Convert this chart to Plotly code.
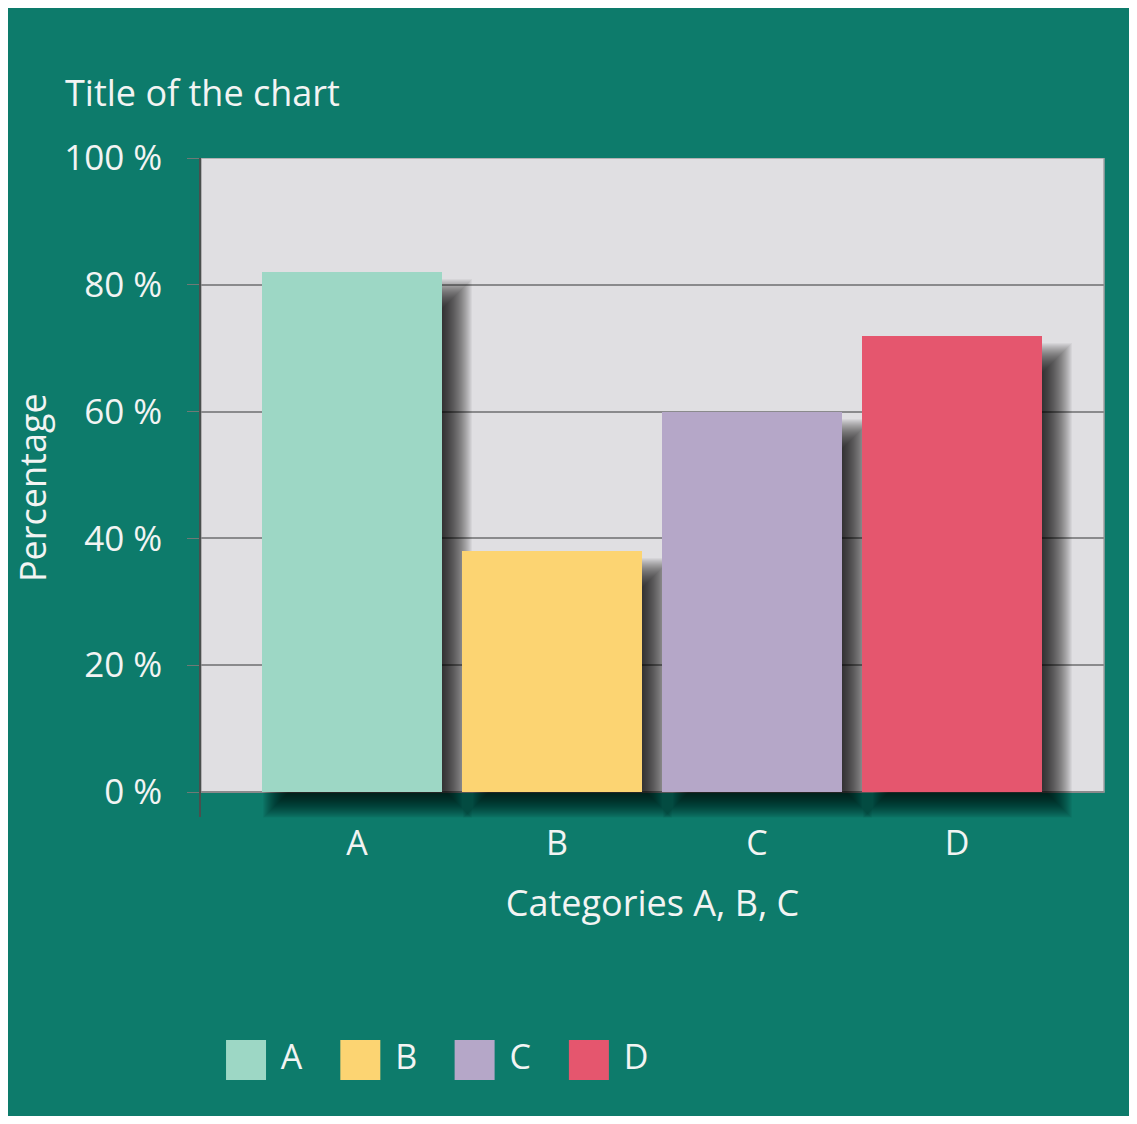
import plotly.graph_objects as go

# data
categories = ["A", "B", "C", "D"]
values = [82, 38, 60, 72]
bar_colors = ["#9dd7c5", "#fcd472", "#b5a7c8", "#e5566e"]
y_ticks = [0, 20, 40, 60, 80, 100]
y_tick_labels = ["0 %", "20 %", "40 %", "60 %", "80 %", "100 %"]

TEAL = "#0d7b6b"
PLOT_GRAY = "#e0dfe2"
TEXT = "#f2f4f3"
FONT = "Open Sans"

W, H = 1121, 1108

# bar geometry in category units
BAR_W = 0.9
BAR_OFF = -0.475

# drop shadow, edge shifts in pixels (left, right, top, bottom) + blur spread
PX_X = 200.0   # px per category
PX_Y = 6.34    # px per percent
SH_L, SH_R, SH_T, SH_B = 17, 14, 23, 10
SH_SPREAD = 16
SH_ALPHA = 0.045

fig = go.Figure()

# fake blurred shadow: many translucent bars, from shrunk to grown
for e in range(-SH_SPREAD, SH_SPREAD + 1):
    top_shift = (SH_T - e) / PX_Y
    bottom_shift = (SH_B + e) / PX_Y
    fig.add_trace(go.Bar(
        x=categories,
        y=[v - top_shift + bottom_shift for v in values],
        base=[-bottom_shift] * len(values),
        offset=BAR_OFF + (SH_L - e) / PX_X,
        width=BAR_W + (SH_R - SH_L + 2 * e) / PX_X,
        marker_color=f"rgba(0,0,0,{SH_ALPHA})",
        marker_line_width=0,
        hoverinfo="skip",
        showlegend=False,
    ))

fig.add_trace(go.Bar(
    x=categories,
    y=values,
    offset=BAR_OFF,
    width=BAR_W,
    marker_color=bar_colors,
    marker_line_width=0,
    showlegend=False,
))

# legend row drawn as its own little subplot
fig.add_trace(go.Scatter(
    x=categories,
    y=[0] * len(categories),
    mode="markers+text",
    marker=dict(symbol="square", size=40, color=bar_colors, line_width=0),
    text=["\u00a0" + c for c in categories],
    textposition="middle right",
    textfont=dict(family=FONT, size=34, color=TEXT),
    cliponaxis=False,
    hoverinfo="skip",
    showlegend=False,
    xaxis="x2",
    yaxis="y2",
))

fig.update_layout(
    width=W,
    height=H,
    margin=dict(l=193, r=W - 193 - 903, t=150, b=30),
    paper_bgcolor=TEAL,
    plot_bgcolor=TEAL,
    barmode="overlay",
    bargap=0,
    showlegend=False,
    font=dict(family=FONT, color=TEXT),
    title=dict(
        text="Title of the chart",
        font=dict(family=FONT, size=36, color=TEXT),
        xref="container", yref="container",
        x=57 / W, y=1 - 85 / H,
        xanchor="left", yanchor="middle",
    ),
    xaxis=dict(
        domain=[0, 1],
        range=[-0.78, 3.735],
        showgrid=False,
        showline=False,
        zeroline=False,
        ticks="",
        tickfont=dict(size=34, color=TEXT),
        ticklabelstandoff=3,
        title=dict(text="Categories A, B, C", font=dict(size=36, color=TEXT), standoff=26),
        anchor="y",
    ),
    yaxis=dict(
        domain=[(1078 - 809.4) / 928, 1],
        range=[-4, 100],
        tickvals=y_ticks,
        ticktext=y_tick_labels,
        tickfont=dict(size=35, color=TEXT),
        ticks="outside",
        ticklen=12,
        tickcolor="#6e7a76",
        ticklabelstandoff=18,
        showgrid=True,
        gridcolor="#8a8a8c",
        gridwidth=1.5,
        zeroline=True,
        zerolinecolor="#8a8a8c",
        zerolinewidth=1.5,
        showline=True,
        linecolor="#4a4f4d",
        linewidth=1.5,
        title=dict(text="Percentage", font=dict(size=36, color=TEXT), standoff=10),
        anchor="x",
    ),
    xaxis2=dict(domain=[0, 1], range=[-0.394, 7.507], visible=False, anchor="y2"),
    yaxis2=dict(domain=[0, 0.056], range=[-1, 1], visible=False, anchor="x2"),
    shapes=[dict(
        type="rect", xref="x domain", yref="y",
        x0=0, x1=1, y0=0, y1=100,
        fillcolor=PLOT_GRAY,
        line=dict(color="#a2a2a4", width=1.5),
        layer="below",
    )],
)

fig.write_html("out.html")
